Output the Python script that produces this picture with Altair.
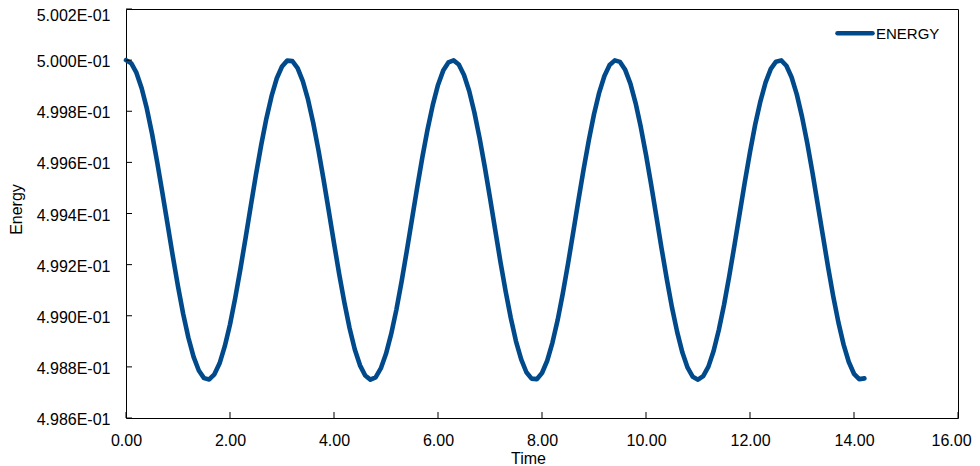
import altair as alt
import pandas as pd

# ---- data ----
time = [round(0.1 * i, 1) for i in range(143)]
energy = [
    0.500000, 0.499988, 0.499951, 0.499891, 0.499811, 0.499713, 0.499601, 0.499481,
    0.499357, 0.499233, 0.499115, 0.499007, 0.498914, 0.498839, 0.498786, 0.498756,
    0.498751, 0.498771, 0.498814, 0.498881, 0.498966, 0.499069, 0.499183, 0.499305,
    0.499430, 0.499553, 0.499668, 0.499772, 0.499860, 0.499929, 0.499975, 0.499998,
    0.499996, 0.499969, 0.499918, 0.499846, 0.499755, 0.499649, 0.499532, 0.499409,
    0.499284, 0.499163, 0.499051, 0.498951, 0.498868, 0.498806, 0.498766, 0.498750,
    0.498759, 0.498794, 0.498851, 0.498929, 0.499024, 0.499134, 0.499254, 0.499378,
    0.499502, 0.499621, 0.499730, 0.499825, 0.499903, 0.499959, 0.499991,
    0.499999, 0.499983, 0.499942, 0.499879, 0.499795, 0.499695, 0.499582, 0.499461,
    0.499336, 0.499212, 0.499096, 0.498991, 0.498900, 0.498829, 0.498779, 0.498754,
    0.498752, 0.498776, 0.498824, 0.498894, 0.498982, 0.499087, 0.499203, 0.499326,
    0.499451, 0.499573, 0.499686, 0.499788, 0.499873, 0.499938, 0.499981, 0.499999,
    0.499993, 0.499962, 0.499908, 0.499832, 0.499738, 0.499630, 0.499512, 0.499388,
    0.499263, 0.499143, 0.499032, 0.498936, 0.498856, 0.498797, 0.498761,
    0.498750, 0.498764, 0.498801, 0.498862, 0.498944, 0.499042, 0.499154, 0.499274,
    0.499399, 0.499523, 0.499640, 0.499748, 0.499839, 0.499913, 0.499966, 0.499994,
    0.499999, 0.499978, 0.499933, 0.499866, 0.499779, 0.499677, 0.499562, 0.499439,
    0.499315, 0.499192, 0.499077, 0.498974, 0.498887, 0.498819, 0.498773, 0.498752,
    0.498755,
]
y_ticks = [0.4986, 0.4988, 0.4990, 0.4992, 0.4994, 0.4996, 0.4998, 0.5000, 0.5002]
x_ticks = [0, 2, 4, 6, 8, 10, 12, 14, 16]
series_name = ["ENERGY"]

# ---- styling ----
W, H = 832, 409
BLUE = "#004a8b"
FONT = "Liberation Sans"

df = pd.DataFrame({"Time": time, "Energy": energy})
yt = pd.DataFrame({"Energy": y_ticks})
xt = pd.DataFrame({"Time": x_ticks})
leg = pd.DataFrame({"s": series_name})

xscale = alt.Scale(domain=[0, 16], nice=False, zero=False)
yscale = alt.Scale(domain=[0.4986, 0.5002], nice=False, zero=False)

x_axis = alt.Axis(
    values=x_ticks, format=".2f", title="Time", ticks=False, domain=False, grid=False,
    labelFont=FONT, labelFontSize=16, labelColor="black", labelPadding=14,
    labelFlush=False, labelOverlap=False,
    labelOffset={"condition": {"test": "datum.value > 15", "value": -7}, "value": 0},
    titleFont=FONT, titleFontSize=16, titleFontWeight="normal", titleColor="black",
    titleX=402, titleY=45, titleBaseline="alphabetic", titleAlign="center",
)
y_axis = alt.Axis(
    values=y_ticks, labelExpr="format(datum.value * 10, '.3f') + 'E-01'",
    title="Energy", ticks=False, domain=False, grid=False,
    labelFont=FONT, labelFontSize=16, labelColor="black", labelPadding=16,
    labelFlush=False, labelOverlap=False,
    labelOffset={"condition": {"test": "datum.value > 0.5001", "value": 6}, "value": 1.5},
    titleFont=FONT, titleFontSize=16, titleFontWeight="normal", titleColor="black",
    titleX=-105, titleY=200, titleBaseline="alphabetic", titleAlign="center", titleAngle=270,
)

line = alt.Chart(df).mark_line(
    color=BLUE, strokeWidth=4.6, strokeCap="round", strokeJoin="round"
).encode(
    x=alt.X("Time:Q", scale=xscale, axis=x_axis),
    y=alt.Y("Energy:Q", scale=yscale, axis=y_axis),
)

ytick = alt.Chart(yt).mark_rule(color="black", strokeWidth=1).encode(
    y=alt.Y("Energy:Q", scale=yscale), x=alt.value(0), x2=alt.value(6)
)
xtick = alt.Chart(xt).mark_rule(color="black", strokeWidth=1).encode(
    x=alt.X("Time:Q", scale=xscale), y=alt.value(H), y2=alt.value(H - 6)
)

leg_rule = alt.Chart(leg).mark_rule(color=BLUE, strokeWidth=4.5, strokeCap="round").encode(
    x=alt.value(711.5), x2=alt.value(746.5), y=alt.value(24.3)
)
leg_text = alt.Chart(leg).mark_text(
    align="left", baseline="alphabetic", font=FONT, fontSize=15, color="black"
).encode(x=alt.value(750), y=alt.value(30.3), text="s:N")

chart = alt.layer(line, ytick, xtick, leg_rule, leg_text).properties(
    width=W, height=H,
    padding={"left": 118, "top": 1, "right": 14, "bottom": 48},
    autosize="none",
).configure(background="white").configure_view(
    stroke="black", strokeWidth=1
).configure_axis(labelFontSize=16, labelFont=FONT, titleFontSize=16, titleFont=FONT)

chart.save("out.html", embed_options={"renderer": "svg", "actions": False})
